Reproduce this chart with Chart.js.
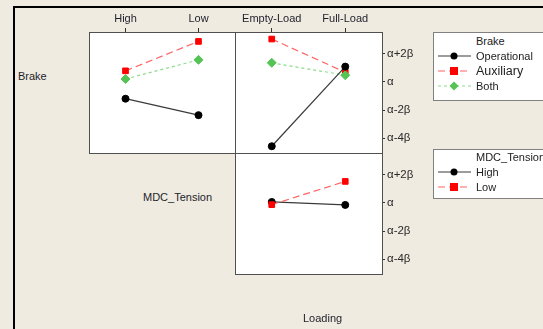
<!DOCTYPE html>
<html>
<head>
<meta charset="utf-8">
<script src="https://cdn.jsdelivr.net/npm/chart.js@4.4.1/dist/chart.umd.min.js"></script>
<style>
  html, body { margin: 0; overflow: hidden; background: #efebe1; font-family: "Liberation Sans", Arial, sans-serif; color: #222; }
  #page { position: relative; width: 543px; height: 329px; overflow: hidden; background: #efebe1; }
  #frame { position: absolute; left: 13px; top: 6px; width: 700px; height: 500px; border-left: 2px solid #000; border-top: 2px solid #000; }
  canvas { position: absolute; }
  .lab { position: absolute; font-size: 11px; line-height: 14px; white-space: nowrap; color: #1e1e2a; }
  .legend { position: absolute; left: 433px; width: 130px; background: #fff; border: 1px solid #808080; }
  .legend .row { position: absolute; left: 0; height: 14px; font-size: 11px; line-height: 14px; white-space: nowrap; color: #222; }
  .legend .row span { position: absolute; left: 42px; top: 0; }
  .legend svg { position: absolute; left: 3px; top: 0; }
</style>
</head>
<body>
<div id="page">
  <div id="frame"></div>
  <canvas id="c1" width="156" height="160" style="left:84px;top:0px"></canvas>
  <canvas id="c2" width="200" height="160" style="left:230px;top:0px"></canvas>
  <canvas id="c3" width="200" height="140" style="left:230px;top:144px"></canvas>
  <div class="lab" style="left:18px;top:69px">Brake</div>
  <div class="lab" style="left:143px;top:190px">MDC_Tension</div>
  <div class="lab" style="left:303px;top:311px">Loading</div>
  <div class="legend" id="leg1" style="top:32px;height:67px"></div>
  <div class="legend" id="leg2" style="top:149px;height:48px"></div>
</div>
<script>
// factor levels
var brakeLevels = ["Operational", "Auxiliary", "Both"];
var tensionLevels = ["High", "Low"];
var loadingLevels = ["Empty-Load", "Full-Load"];

// mean response in units of beta, relative to alpha
var operationalByTension = [-1.19, -2.36];
var auxiliaryByTension = [0.79, 2.88];
var bothByTension = [0.21, 1.57];

var operationalByLoading = [-4.57, 1.09];
var auxiliaryByLoading = [3.05, 0.69];
var bothByLoading = [1.36, 0.48];

var highByLoading = [0.07, -0.14];
var lowByLoading = [-0.12, 1.53];

var yTickValues = [-4, -2, 0, 2];
var yTickLabels = ["α-4β", "α-2β", "α", "α+2β"];
var yMin = -5.05, yMax = 3.55;

var styles = {
  black: { line: "#3a3a3a", point: "#000", dash: [], shape: "circle", r: 3.5 },
  red:   { line: "#ff6464", point: "#ff0000", dash: [7, 4], shape: "rect", r: 4 },
  green: { line: "#8cdc8c", point: "#55c455", dash: [3, 3], shape: "rectRot", r: 4.5 }
};

var fontAxis = { family: "Liberation Sans", size: 11 };

var framePlugin = {
  id: "frame",
  beforeDraw: function(chart) {
    var a = chart.chartArea, ctx = chart.ctx;
    ctx.save();
    ctx.fillStyle = "#fff";
    ctx.fillRect(a.left, a.top, a.right - a.left, a.bottom - a.top);
    ctx.restore();
  },
  afterDraw: function(chart) {
    var a = chart.chartArea, ctx = chart.ctx;
    ctx.save();
    ctx.strokeStyle = "#505050";
    ctx.lineWidth = 1;
    ctx.strokeRect(a.left + 0.5, a.top + 0.5, a.right - a.left, a.bottom - a.top);
    ctx.restore();
  }
};

function ds(label, data, st, order) {
  return {
    label: label, data: data, order: order,
    borderColor: st.line, borderWidth: 1.2, borderDash: st.dash,
    pointStyle: st.shape, pointRadius: st.r,
    pointBackgroundColor: st.point, pointBorderColor: st.point, pointBorderWidth: 1,
    fill: false, tension: 0
  };
}

function makePanel(id, labels, datasets, showTop, showRight, padding) {
  var xScale = {
    type: "category", offset: true, position: "top", display: showTop,
    grid: { drawOnChartArea: false, offset: false, tickLength: 4, color: "#333" },
    border: { display: false },
    ticks: { padding: 2, font: fontAxis, color: "#1e1e2a", maxRotation: 0, autoSkip: false },
    afterFit: function(s) { if (showTop) s.height = 32; }
  };
  var yScale = {
    type: "linear", position: "right", display: showRight, min: yMin, max: yMax,
    grid: { drawOnChartArea: false, tickLength: 3, color: "#333" },
    border: { display: false },
    ticks: {
      padding: 2, font: { family: "Liberation Sans", size: 11.5 }, color: "#2a2a2a",
      callback: function(v) { var i = yTickValues.indexOf(v); return i >= 0 ? yTickLabels[i] : ""; }
    },
    afterBuildTicks: function(s) { s.ticks = yTickValues.map(function(v) { return { value: v }; }); },
    afterFit: function(s) {
      if (showRight) s.width = 48;
      s.paddingTop = 0; s.paddingBottom = 0;
    }
  };
  return new Chart(document.getElementById(id).getContext("2d"), {
    type: "line",
    data: { labels: labels, datasets: datasets },
    options: {
      responsive: false, animation: false,
      layout: { padding: padding, autoPadding: false },
      plugins: { legend: { display: false }, tooltip: { enabled: false } },
      scales: { x: xScale, y: yScale }
    },
    plugins: [framePlugin]
  });
}

makePanel("c1", tensionLevels, [
  ds(brakeLevels[0], operationalByTension, styles.black, 2),
  ds(brakeLevels[1], auxiliaryByTension, styles.red, 1),
  ds(brakeLevels[2], bothByTension, styles.green, 0)
], true, false, { left: 5, right: 5, top: 0, bottom: 7 });

makePanel("c2", loadingLevels, [
  ds(brakeLevels[0], operationalByLoading, styles.black, 0),
  ds(brakeLevels[1], auxiliaryByLoading, styles.red, 2),
  ds(brakeLevels[2], bothByLoading, styles.green, 1)
], true, true, { left: 5, right: 0, top: 0, bottom: 7 });

makePanel("c3", loadingLevels, [
  ds(tensionLevels[0], highByLoading, styles.black, 1),
  ds(tensionLevels[1], lowByLoading, styles.red, 0)
], false, true, { left: 5, right: 0, top: 9, bottom: 10 });

// legends
function sample(st) {
  var s = '<svg width="36" height="14" viewBox="0 0 36 14">';
  s += '<line x1="1" y1="7" x2="34" y2="7" stroke="' + st.line + '" stroke-width="1.2"' +
       (st.dash.length ? ' stroke-dasharray="' + st.dash.join(",") + '"' : '') + '/>';
  if (st.shape === "circle") s += '<circle cx="17" cy="7" r="3.5" fill="' + st.point + '"/>';
  if (st.shape === "rect") s += '<rect x="13" y="3" width="8" height="8" fill="' + st.point + '"/>';
  if (st.shape === "rectRot") s += '<polygon points="17,2.5 21.5,7 17,11.5 12.5,7" fill="' + st.point + '"/>';
  return s + '</svg>';
}
function legend(id, title, names, sts, rowsY, sizes) {
  var html = '<div class="row" style="top:' + (rowsY[0] - 7) + 'px"><span>' + title + '</span></div>';
  for (var i = 0; i < names.length; i++) {
    html += '<div class="row" style="top:' + (rowsY[i + 1] - 7) + 'px;width:130px">' + sample(sts[i]) +
      '<span style="font-size:' + sizes[i] + 'px">' + names[i] + '</span></div>';
  }
  document.getElementById(id).innerHTML = html;
}
legend("leg1", "Brake", brakeLevels, [styles.black, styles.red, styles.green], [8, 23, 38, 53], [11, 12.5, 11]);
legend("leg2", "MDC_Tension", tensionLevels, [styles.black, styles.red], [7, 22, 37], [11, 11]);
</script>
</body>
</html>
